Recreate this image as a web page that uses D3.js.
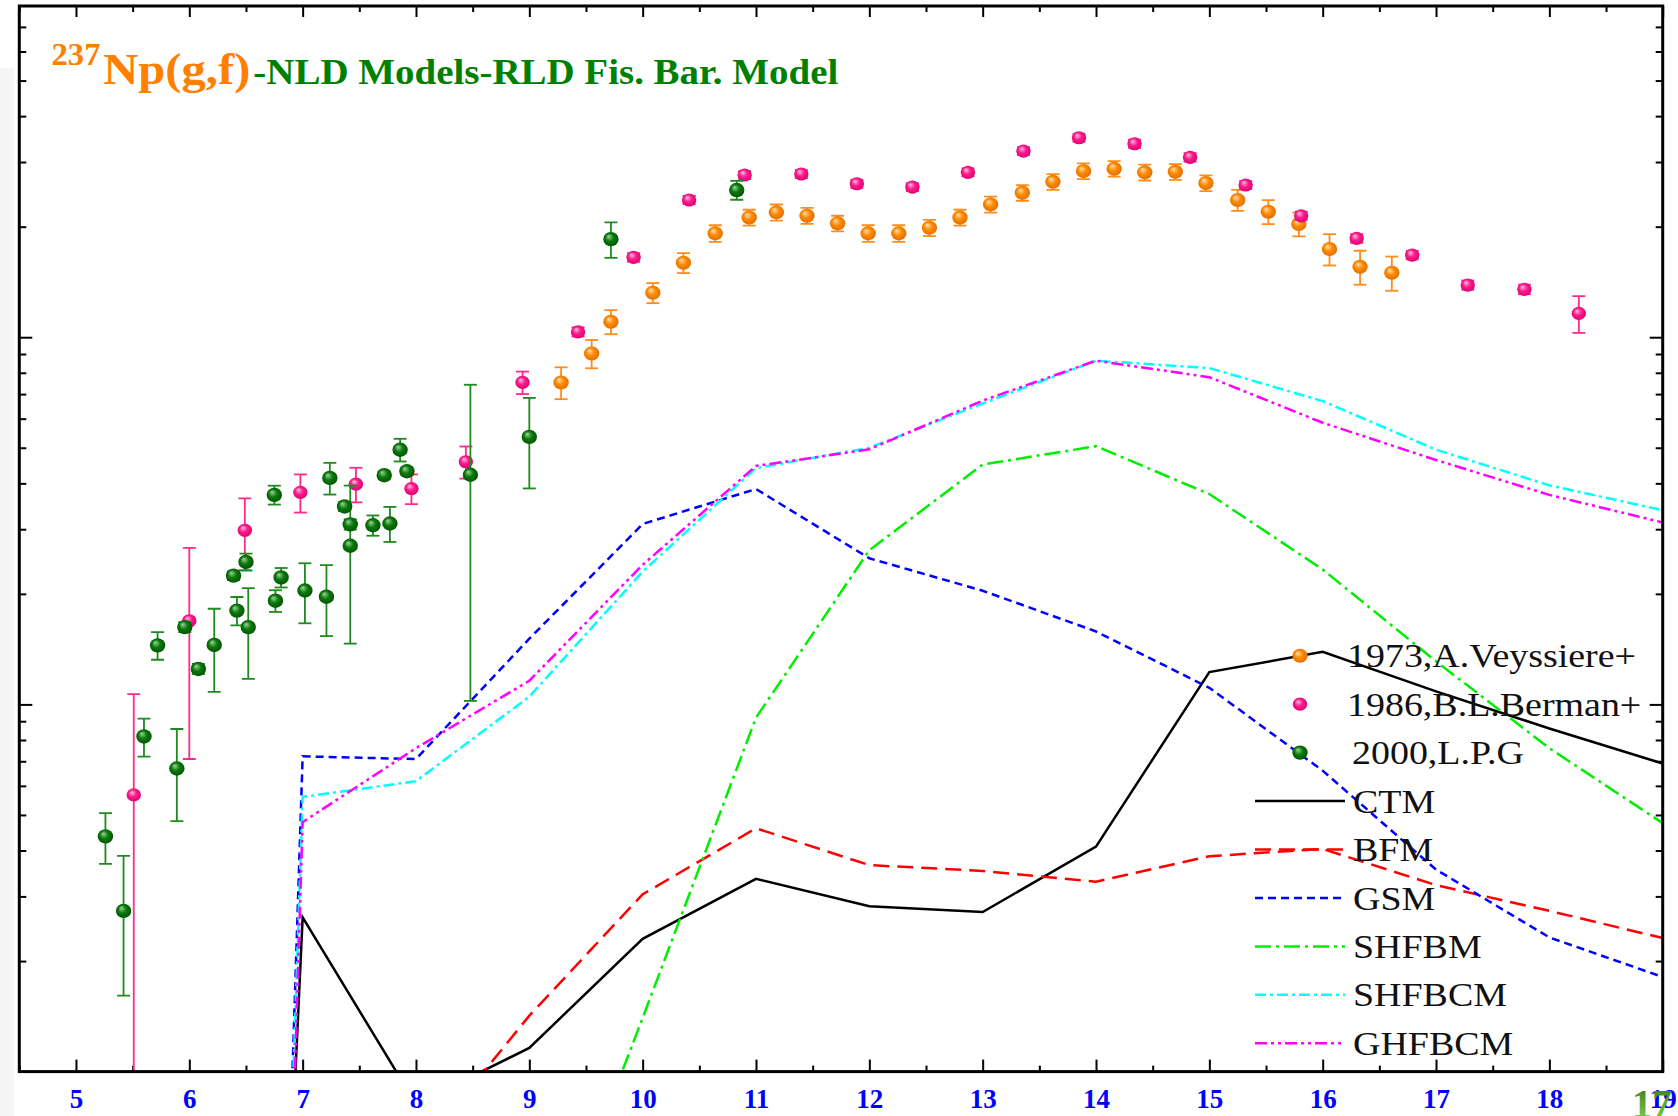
<!DOCTYPE html>
<html>
<head>
<meta charset="utf-8">
<script src="https://cdn.jsdelivr.net/npm/d3@7"></script>
<style>
  html, body { margin: 0; padding: 0; background: #ffffff; }
  svg { display: block; }
</style>
</head>
<body>
<svg id="chart" width="1678" height="1116"></svg>
<script>
// ---- Axis ticks ----
const xMajorTicks = [5, 6, 7, 8, 9, 10, 11, 12, 13, 14, 15, 16, 17, 18, 19];
const xMinorTicks = [4.5, 5.5, 6.5, 7.5, 8.5, 9.5, 10.5, 11.5, 12.5, 13.5, 14.5, 15.5, 16.5, 17.5, 18.5];
const yMajorTicks = [10, 100];
const yMinorTicks = [2, 3, 4, 5, 6, 7, 8, 9, 20, 30, 40, 50, 60, 70, 80, 90, 200, 300, 400, 500, 600, 700];

// ---- Model calculations (cross section vs. photon energy, MeV) ----
const modelEnergies = [6.9, 7, 8, 9, 10, 11, 12, 13, 14, 15, 16, 17, 18, 19];
const ctmValues    = [0.57, 2.63, 0.816, 1.16, 2.30, 3.35, 2.82, 2.72, 4.10, 12.25, 13.9, 10.85, 8.6, 6.9];
const bfmValues    = [null, null, 0.593, 1.42, 3.04, 4.6, 3.65, 3.52, 3.29, 3.86, 4.04, 3.22, 2.74, 2.31];
const gsmValues    = [0.80, 7.22, 7.1, 15.1, 31.0, 38.6, 25.0, 20.4, 15.8, 11.1, 6.6, 3.55, 2.32, 1.81];
const shfbmValues  = [null, null, null, 0.22, 1.4, 9.2, 26.3, 45.0, 50.5, 37.4, 23.3, 13.1, 7.6, 4.75];
const shfbcmValues = [0.68, 5.6, 6.18, 10.5, 23.0, 44.0, 50.0, 66.0, 86.3, 82.4, 67.0, 49.4, 39.5, 33.8];
const ghfbcmValues = [0.48, 4.78, 7.6, 11.6, 24.0, 44.6, 49.5, 67.2, 86.3, 77.8, 58.5, 46.3, 37.2, 31.3];

// ---- Experimental data: 1973, A. Veyssiere+ ----
const veyEnergy = [9.28, 9.55, 9.72, 10.09, 10.36, 10.64, 10.94, 11.18, 11.45, 11.72, 11.99, 12.26, 12.53, 12.80,
                   13.07, 13.35, 13.62, 13.89, 14.16, 14.43, 14.70, 14.97, 15.25, 15.52, 15.79, 16.06, 16.33, 16.61];
const veyValue  = [75.3, 90.3, 110.2, 132.1, 159.5, 191.8, 211.9, 218.8, 214.2, 204.2, 191.8, 191.8, 198.6, 211.9,
                   230.0, 247.3, 265.0, 283.5, 287.7, 281.2, 282.2, 263.0, 236.4, 219.6, 203.3, 173.8, 155.5, 149.8];
const veyError  = [7.5, 8.0, 8.3, 8.3, 10, 10, 10.5, 11, 10.7, 10, 10, 10, 10, 10.5,
                   11.5, 12, 13, 14, 14, 14, 14, 13, 15.5, 16.5, 15, 17, 16.5, 16];

// ---- Experimental data: 1986, B.L. Berman+ ----
const berEnergy = [5.51, 6.00, 6.49, 6.98, 7.47, 7.96, 8.44, 8.94, 9.43, 9.92, 10.41, 10.90, 11.40, 11.89,
                   12.38, 12.87, 13.36, 13.85, 14.34, 14.83, 15.32, 15.81, 16.30, 16.79, 17.28, 17.78, 18.26];
const berValue  = [5.67, 16.9, 29.8, 37.8, 39.8, 38.7, 45.8, 75.3, 103.4, 165.0, 236.4, 276.5, 278.3, 261.8,
                   256.4, 281.2, 321.3, 349.3, 336.4, 309.0, 259.7, 214.1, 185.8, 167.4, 138.7, 135.0, 116.1];
const berError  = [5.0, 9.8, 6.6, 4.5, 4.3, 3.6, 4.6, 5.3, 3.0, 4.5, 6.0, 7.0, 7.0, 6.5,
                   6.5, 7.0, 8.0, 8.5, 8.5, 8.0, 6.5, 5.5, 5.0, 4.5, 4.0, 4.0, 13.3];

// ---- Experimental data: 2000, L.P.G ----
const lpgEnergy = [5.26, 5.42, 5.60, 5.72, 5.89, 5.96, 6.08, 6.22, 6.39, 6.42, 6.50, 6.52, 6.75, 6.76, 6.81,
                   7.02, 7.21, 7.24, 7.37, 7.42, 7.42, 7.62, 7.77, 7.72, 7.86, 7.92, 8.48, 9.00, 9.72, 10.83];
const lpgValue  = [4.37, 2.74, 8.18, 14.48, 6.69, 16.24, 12.49, 14.52, 22.42, 18.01, 24.44, 16.24, 37.21, 19.16, 22.17,
                   20.43, 19.65, 41.38, 34.6, 30.93, 27.04, 30.75, 31.1, 42.09, 49.38, 43.15, 42.22, 53.54, 185.0, 251.6];
const lpgError  = [0.69, 1.13, 0.97, 1.25, 1.88, 0.5, 0.4, 3.7, 0.6, 1.6, 1.3, 4.5, 2.2, 1.3, 1.35,
                   3.8, 4.3, 4.1, 1.0, 1.0, 12.4, 1.95, 3.4, 1.0, 3.5, 1.0, 32, 14.8, 20.5, 14.8];

// ---- Layout ----
const W = 1678, H = 1116;
const plot = { left: 19.3, right: 1662.7, top: 6, bottom: 1071.6 };
const serif = "'Liberation Serif', 'Times New Roman', Times, serif";

const svg = d3.select("#chart");

const x = d3.scaleLinear().domain([4.5, 19]).range([plot.left, plot.right]);
const y = d3.scaleLog().domain([1, 798]).range([plot.bottom, plot.top]);

// light strip at the left margin
svg.append("rect").attr("x", 0).attr("y", 68).attr("width", 14).attr("height", H - 68).attr("fill", "#f5f5f5");

const defs = svg.append("defs");
defs.append("clipPath").attr("id", "plotClip")
  .append("rect")
  .attr("x", plot.left).attr("y", plot.top)
  .attr("width", plot.right - plot.left).attr("height", plot.bottom - plot.top);

function sphere(id, light, base, dark) {
  const g = defs.append("radialGradient").attr("id", id)
    .attr("cx", "50%").attr("cy", "50%").attr("r", "60%")
    .attr("fx", "35%").attr("fy", "30%");
  g.append("stop").attr("offset", "0%").attr("stop-color", light);
  g.append("stop").attr("offset", "45%").attr("stop-color", base);
  g.append("stop").attr("offset", "100%").attr("stop-color", dark);
}
sphere("ballOrange", "#ffe2b8", "#ff8a00", "#d96800");
sphere("ballPink", "#ffc4e2", "#ff1a8c", "#d0006a");
sphere("ballGreen", "#9fd69f", "#0b7a0b", "#004a00");

const pageNumGrad = defs.append("linearGradient").attr("id", "pageNum")
  .attr("x1", "0").attr("y1", "0").attr("x2", "0").attr("y2", "1");
pageNumGrad.append("stop").attr("offset", "0%").attr("stop-color", "#2f7412");
pageNumGrad.append("stop").attr("offset", "100%").attr("stop-color", "#86d957");

// ---- Axes (ticks point inward) ----
function styleAxis(g) {
  g.select(".domain").remove();
  g.selectAll(".tick line").attr("stroke", "#000").attr("stroke-width", 2);
}
svg.append("g").attr("transform", `translate(0,${plot.bottom})`)
  .call(d3.axisBottom(x).tickValues(xMinorTicks).tickSize(-6).tickFormat("").tickSizeOuter(0)).call(styleAxis);
svg.append("g").attr("transform", `translate(0,${plot.top})`)
  .call(d3.axisTop(x).tickValues(xMinorTicks).tickSize(-6).tickFormat("").tickSizeOuter(0)).call(styleAxis);
svg.append("g").attr("transform", `translate(0,${plot.top})`)
  .call(d3.axisTop(x).tickValues(xMajorTicks).tickSize(-11).tickFormat("").tickSizeOuter(0)).call(styleAxis);

const xAxisG = svg.append("g").attr("transform", `translate(0,${plot.bottom})`)
  .call(d3.axisBottom(x).tickValues(xMajorTicks).tickSize(-12).tickPadding(17).tickSizeOuter(0)
    .tickFormat(d3.format("d")))
  .call(styleAxis);
xAxisG.selectAll(".tick text")
  .attr("fill", "#0000ff").attr("font-family", serif).attr("font-weight", "bold").attr("font-size", 27);

svg.append("g").attr("transform", `translate(${plot.left},0)`)
  .call(d3.axisLeft(y).tickValues(yMinorTicks).tickSize(-7).tickFormat("").tickSizeOuter(0)).call(styleAxis);
svg.append("g").attr("transform", `translate(${plot.left},0)`)
  .call(d3.axisLeft(y).tickValues(yMajorTicks).tickSize(-13).tickFormat("").tickSizeOuter(0)).call(styleAxis);
svg.append("g").attr("transform", `translate(${plot.right},0)`)
  .call(d3.axisRight(y).tickValues(yMinorTicks).tickSize(-7).tickFormat("").tickSizeOuter(0)).call(styleAxis);
svg.append("g").attr("transform", `translate(${plot.right},0)`)
  .call(d3.axisRight(y).tickValues(yMajorTicks).tickSize(-13).tickFormat("").tickSizeOuter(0)).call(styleAxis);

// ---- Model curves ----
const models = [
  { name: "CTM",    values: ctmValues,    color: "#000000", dash: null },
  { name: "BFM",    values: bfmValues,    color: "#ff0000", dash: "16,8" },
  { name: "GSM",    values: gsmValues,    color: "#0000ff", dash: "8,5" },
  { name: "SHFBM",  values: shfbmValues,  color: "#00ee00", dash: "16,5,3,5" },
  { name: "SHFBCM", values: shfbcmValues, color: "#00ffff", dash: "11,4,3,4" },
  { name: "GHFBCM", values: ghfbcmValues, color: "#ff00ff", dash: "12,4,3,4,3,4" }
];

const line = d3.line()
  .defined(d => d.v != null)
  .x(d => x(d.e))
  .y(d => y(d.v));

const curves = svg.append("g").attr("clip-path", "url(#plotClip)");
models.forEach(m => {
  const pts = modelEnergies.map((e, i) => ({ e, v: m.values[i] }));
  curves.append("path")
    .datum(pts)
    .attr("d", line)
    .attr("fill", "none")
    .attr("stroke", m.color)
    .attr("stroke-width", 2.5)
    .attr("stroke-dasharray", m.dash);
});

// ---- Experimental points with error bars ----
const experiments = [
  { name: "1973,A.Veyssiere+", e: veyEnergy, v: veyValue, err: veyError, fill: "url(#ballOrange)", bar: "#ff8c1a", rx: 7.7, ry: 7 },
  { name: "1986,B.L.Berman+",  e: berEnergy, v: berValue, err: berError, fill: "url(#ballPink)",   bar: "#ff2a8a", rx: 7.2, ry: 6.6 },
  { name: "2000,L.P.G",        e: lpgEnergy, v: lpgValue, err: lpgError, fill: "url(#ballGreen)",  bar: "#1f8a1f", rx: 7.7, ry: 7.2 }
];

const dataG = svg.append("g").attr("clip-path", "url(#plotClip)");
experiments.forEach(ex => {
  const pts = ex.e.map((e, i) => ({ e, v: ex.v[i], err: ex.err[i] }));
  const g = dataG.append("g");
  const bars = g.selectAll("g.bar").data(pts).enter().append("g").attr("class", "bar")
    .attr("stroke", ex.bar).attr("stroke-width", 1.8);
  const lo = d => y(Math.max(d.v - d.err, 0.01));
  const hi = d => y(d.v + d.err);
  bars.append("line").attr("x1", d => x(d.e)).attr("x2", d => x(d.e)).attr("y1", lo).attr("y2", hi);
  bars.append("line").attr("x1", d => x(d.e) - 6.5).attr("x2", d => x(d.e) + 6.5).attr("y1", hi).attr("y2", hi);
  bars.append("line").attr("x1", d => x(d.e) - 6.5).attr("x2", d => x(d.e) + 6.5).attr("y1", lo).attr("y2", lo);
  g.selectAll("ellipse").data(pts).enter().append("ellipse")
    .attr("cx", d => x(d.e)).attr("cy", d => y(d.v))
    .attr("rx", ex.rx).attr("ry", ex.ry)
    .attr("fill", ex.fill);
});

// ---- Frame ----
svg.append("rect")
  .attr("x", plot.left).attr("y", plot.top)
  .attr("width", plot.right - plot.left).attr("height", plot.bottom - plot.top)
  .attr("fill", "none").attr("stroke", "#000").attr("stroke-width", 3);

// ---- Title ----
svg.append("text").attr("x", 51.5).attr("y", 65)
  .attr("font-family", serif).attr("font-weight", "bold").attr("font-size", 32)
  .attr("fill", "#ff8000").attr("textLength", 49).attr("lengthAdjust", "spacingAndGlyphs")
  .text("237");
svg.append("text").attr("x", 103.3).attr("y", 84.3)
  .attr("font-family", serif).attr("font-weight", "bold").attr("font-size", 44)
  .attr("fill", "#ff8000").attr("textLength", 147).attr("lengthAdjust", "spacingAndGlyphs")
  .text("Np(g,f)");
svg.append("text").attr("x", 253.3).attr("y", 83.5)
  .attr("font-family", serif).attr("font-weight", "bold").attr("font-size", 35)
  .attr("fill", "#008000").attr("textLength", 585).attr("lengthAdjust", "spacingAndGlyphs")
  .text("-NLD Models-RLD Fis. Bar. Model");

// ---- Legend ----
const legendRow0 = 655.7, legendStep = 48.45;
const legend = svg.append("g");
function legendText(tx, row, label) {
  legend.append("text")
    .attr("transform", `translate(${tx},${legendRow0 + row * legendStep + 11.6}) scale(1.1,1)`)
    .attr("font-family", serif).attr("font-size", 34.5).attr("fill", "#111")
    .text(label);
}
experiments.forEach((ex, i) => {
  legend.append("ellipse")
    .attr("cx", 1300).attr("cy", legendRow0 + i * legendStep)
    .attr("rx", ex.rx).attr("ry", ex.ry).attr("fill", ex.fill);
  legendText(i === 2 ? 1352 : 1347, i, ex.name);
});
models.forEach((m, j) => {
  const row = j + 3;
  const ly = legendRow0 + row * legendStep;
  legend.append("line")
    .attr("x1", 1255).attr("x2", 1345).attr("y1", ly).attr("y2", ly)
    .attr("stroke", m.color).attr("stroke-width", 2.5).attr("stroke-dasharray", m.dash);
  legendText(1353, row, m.name);
});

// ---- Page number ----
svg.append("text").attr("x", 1652).attr("y", 1117).attr("text-anchor", "middle")
  .attr("font-family", serif).attr("font-weight", "bold").attr("font-size", 40)
  .attr("fill", "url(#pageNum)")
  .text("17");
</script>
</body>
</html>
